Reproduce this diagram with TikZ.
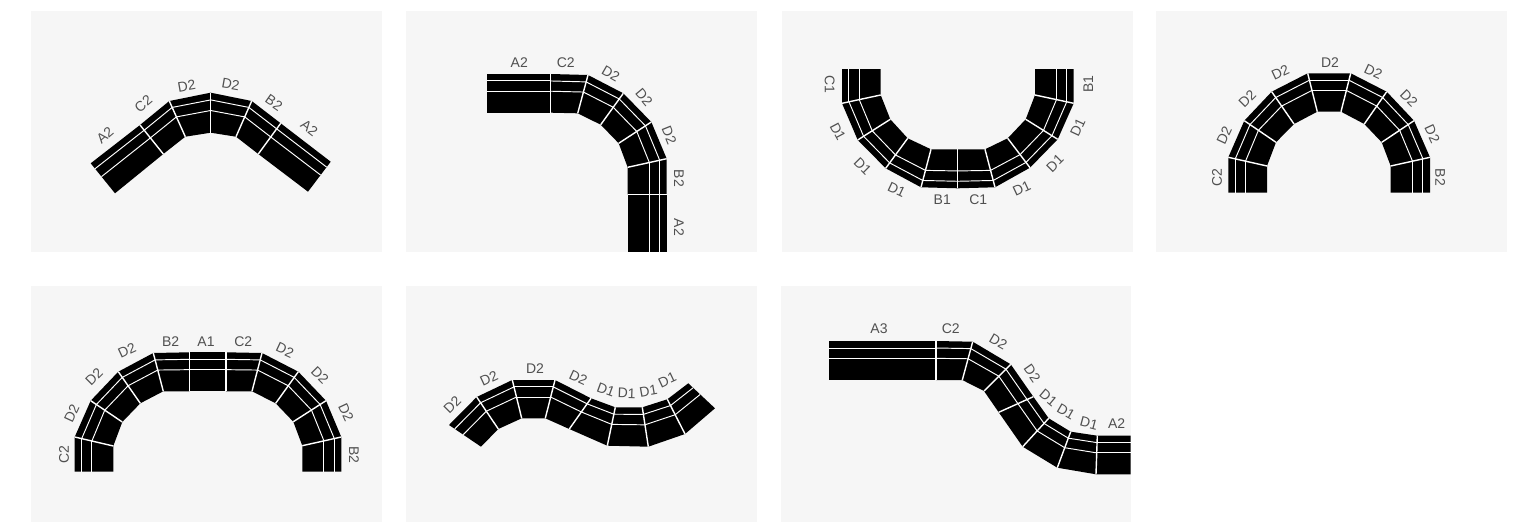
\documentclass[tikz,border=0pt]{standalone}
\usepackage{fontspec}
\setmainfont{Liberation Sans}
\usetikzlibrary{calc}
\definecolor{panelbg}{HTML}{F6F6F6}
\definecolor{labelcol}{HTML}{505050}
\tikzset{
  panel/.style={fill=panelbg,draw=none},
  trackfill/.style={fill=black,draw=none},
  lane/.style={draw=white,line width=0.95pt},
  sep/.style={draw=white,line width=1.4pt},
  lbl/.style={text=labelcol,inner sep=0pt,font=\fontsize{14}{14}\selectfont}
}
\newcommand{\trackchain}[1]{%
  \foreach \a/\b/\c/\d [count=\n, remember=\a as \pa, remember=\b as \pb, remember=\c as \pc, remember=\d as \pd] in {#1}{%
    \ifnum\n>1
      \fill[trackfill] (\pa,\pb) -- (\a,\b) -- (\c,\d) -- (\pc,\pd) -- cycle;
    \fi
  }%
  \foreach \a/\b/\c/\d [count=\n, remember=\a as \pa, remember=\b as \pb, remember=\c as \pc, remember=\d as \pd] in {#1}{%
    \ifnum\n>1
      \draw[lane] ($(\pa,\pb)!.18!(\pc,\pd)$) -- ($(\a,\b)!.18!(\c,\d)$);
      \draw[lane] ($(\pa,\pb)!.445!(\pc,\pd)$) -- ($(\a,\b)!.445!(\c,\d)$);
    \fi
  }%
  \foreach \a/\b/\c/\d [count=\n, remember=\a as \pa, remember=\b as \pb, remember=\c as \pc, remember=\d as \pd] in {#1}{%
    \ifnum\n>2
      \draw[sep] (\pa,\pb) -- (\pc,\pd);
    \fi
  }%
}
\begin{document}
\begin{tikzpicture}[x=1pt,y=-1pt]
\useasboundingbox (0,0) rectangle (1516,522);
\fill[panel] (31,11) rectangle (382,252);
\fill[panel] (406,11) rectangle (757,252);
\fill[panel] (782,11) rectangle (1133,252);
\fill[panel] (1156,11) rectangle (1507,252);
\fill[panel] (31,286) rectangle (382,522);
\fill[panel] (406,286) rectangle (757,522);
\fill[panel] (781,286) rectangle (1131,522);
% panel 1
\trackchain{90.7/163.3/115/193.3, 140/125/163.3/154, 169.3/101/185.3/136.7, 210.7/92.7/210.7/132.7, 251.7/101/236/136.7, 280.7/123.3/258.3/154, 330.7/161.7/308/191.7}
\node[lbl,rotate=40] (a1) at (105,135) {A2};
\node[lbl,rotate=40] (a2) at (143.3,104) {C2};
\node[lbl,rotate=10] (a3) at (186.7,86) {D2};
\node[lbl,rotate=-10] (a4) at (230.7,84.7) {D2};
\node[lbl,rotate=-35] (a5) at (274,102.7) {B2};
\node[lbl,rotate=-38] (a6) at (309.3,128.3) {A2};
% panel 2
\trackchain{487.3/74/487.3/112.7, 550.7/74/550.7/112.7, 588/75/577.7/113.3, 623.3/93.3/600.7/124.7, 651.3/122/618.7/143.3, 666.7/158.7/627.7/167.3, 666.7/194.3/627.7/194.3, 666.7/252/627.7/252}
\node[lbl] (b1) at (519.3,62.7) {A2};
\node[lbl] (b2) at (565.7,62.7) {C2};
\node[lbl,rotate=-30] (b3) at (610.7,73.3) {D2};
\node[lbl,rotate=-50] (b4) at (644,97.3) {D2};
\node[lbl,rotate=-68] (b5) at (669.3,135.3) {D2};
\node[lbl,rotate=-90] (b6) at (679,178.3) {B2};
\node[lbl,rotate=-90] (b7) at (679,227.3) {A2};
% panel 3
\trackchain{842/69/880.7/69, 842/103.3/880.7/95, 857.7/140/890.3/119.3, 885.7/168.3/907.7/138.3, 921/187.3/931/149.3, 957.7/188.3/957.7/149.3, 995/187.3/985/149.3, 1030/167.7/1007.7/138.3, 1057.7/139.3/1025.7/119.3, 1073.7/103.3/1035/95, 1073.7/69/1035/69}
\node[lbl,rotate=-90] (c1) at (829.7,84) {C1};
\node[lbl,rotate=-62] (c2) at (837.7,131.7) {D1};
\node[lbl,rotate=-45] (c3) at (862.7,166) {D1};
\node[lbl,rotate=-25] (c4) at (896.7,190) {D1};
\node[lbl] (c5) at (942.3,200) {B1};
\node[lbl] (c6) at (978.3,200) {C1};
\node[lbl,rotate=25] (c7) at (1021.7,188.3) {D1};
\node[lbl,rotate=45] (c8) at (1055,163.3) {D1};
\node[lbl,rotate=65] (c9) at (1077.7,127.7) {D1};
\node[lbl,rotate=90] (c10) at (1088.3,84) {B1};
% panel 4
\trackchain{1228.3/192.7/1267/192.7, 1228.3/157.3/1267/166, 1244.3/120.7/1276/142.3, 1271.7/91.7/1294/124, 1307.7/73.3/1317.3/111.7, 1350.7/73.3/1341/111.7, 1386.7/91.7/1364.3/124, 1414/120.7/1381.7/142.3, 1430/157.3/1390.7/166, 1430/192.7/1390.7/192.7}
\node[lbl,rotate=90] (d1) at (1217,177.3) {C2};
\node[lbl,rotate=65] (d2) at (1224.3,135) {D2};
\node[lbl,rotate=45] (d3) at (1247.3,99) {D2};
\node[lbl,rotate=25] (d4) at (1280.3,72.7) {D2};
\node[lbl] (d5) at (1330,62.3) {D2};
\node[lbl,rotate=-25] (d6) at (1373.3,71.7) {D2};
\node[lbl,rotate=-45] (d7) at (1409,98.3) {D2};
\node[lbl,rotate=-65] (d8) at (1432.3,134) {D2};
\node[lbl,rotate=-90] (d9) at (1440.3,177.3) {B2};
% panel 5
\trackchain{74.7/471.7/113.3/471.7, 74.7/437/113.3/446, 90.7/400.7/122.3/422, 118.3/371.7/140.3/403.3, 153.3/353/163.3/391.3, 189.3/352.3/189.3/391.3, 226/352.3/226/391.3, 262/353/252/391.3, 298.3/371.7/275.7/403.3, 326/400.7/293.3/421.7, 341.3/437/302.3/445.7, 341.3/471.7/302.3/471.7}
\node[lbl,rotate=90] (e1) at (64,455) {C2};
\node[lbl,rotate=65] (e2) at (71.7,413.3) {D2};
\node[lbl,rotate=45] (e3) at (94,376.7) {D2};
\node[lbl,rotate=25] (e4) at (127,350.3) {D2};
\node[lbl] (e5) at (170.7,341.7) {B2};
\node[lbl] (e6) at (206,341.7) {A1};
\node[lbl] (e7) at (243.3,341.7) {C2};
\node[lbl,rotate=-25] (e8) at (285,350.3) {D2};
\node[lbl,rotate=-45] (e9) at (320,375) {D2};
\node[lbl,rotate=-65] (e10) at (346,412.7) {D2};
\node[lbl,rotate=-90] (e11) at (354,455) {B2};
% panel 6
\trackchain{449/425/481/446.7, 476.7/397/498.3/429, 512.3/380/521.7/418.3, 555/380/545.3/418.3, 591/398.3/569.3/429, 615.3/407.3/607.3/445.7, 642.3/407.3/648.3/446.7, 667.3/399.3/685/434, 688.3/383.3/715/408.3}
\node[lbl,rotate=45] (f1) at (452.3,405) {D2};
\node[lbl,rotate=25] (f2) at (489,378.3) {D2};
\node[lbl] (f3) at (535,369) {D2};
\node[lbl,rotate=-25] (f4) at (578.3,377.7) {D2};
\node[lbl,rotate=-20] (f5) at (606,390) {D1};
\node[lbl,rotate=-2] (f6) at (626.7,393.3) {D1};
\node[lbl,rotate=10] (f7) at (648.3,391) {D1};
\node[lbl,rotate=25] (f8) at (667.3,380) {D1};
% panel 7
\trackchain{829.3/341/829.3/380, 936/341/936/380, 972.7/341.7/962.3/380, 1010.7/364.3/984/391, 1033.3/396.7/998.7/412.3, 1048.7/418.3/1022.7/446.7, 1070.7/431.7/1057.3/467.7, 1097.3/435.7/1096/474.3, 1130.7/435.7/1130.7/474.3}
\node[lbl] (g1) at (879,329) {A3};
\node[lbl] (g2) at (950.7,329) {C2};
\node[lbl,rotate=-30] (g3) at (998.3,341.7) {D2};
\node[lbl,rotate=-55] (g4) at (1032.3,373.3) {D2};
\node[lbl,rotate=-40] (g5) at (1048.3,397.7) {D1};
\node[lbl,rotate=-30] (g6) at (1066,411.7) {D1};
\node[lbl,rotate=-15] (g7) at (1089,423.3) {D1};
\node[lbl] (g8) at (1116.7,423.3) {A2};
\end{tikzpicture}
\end{document}
